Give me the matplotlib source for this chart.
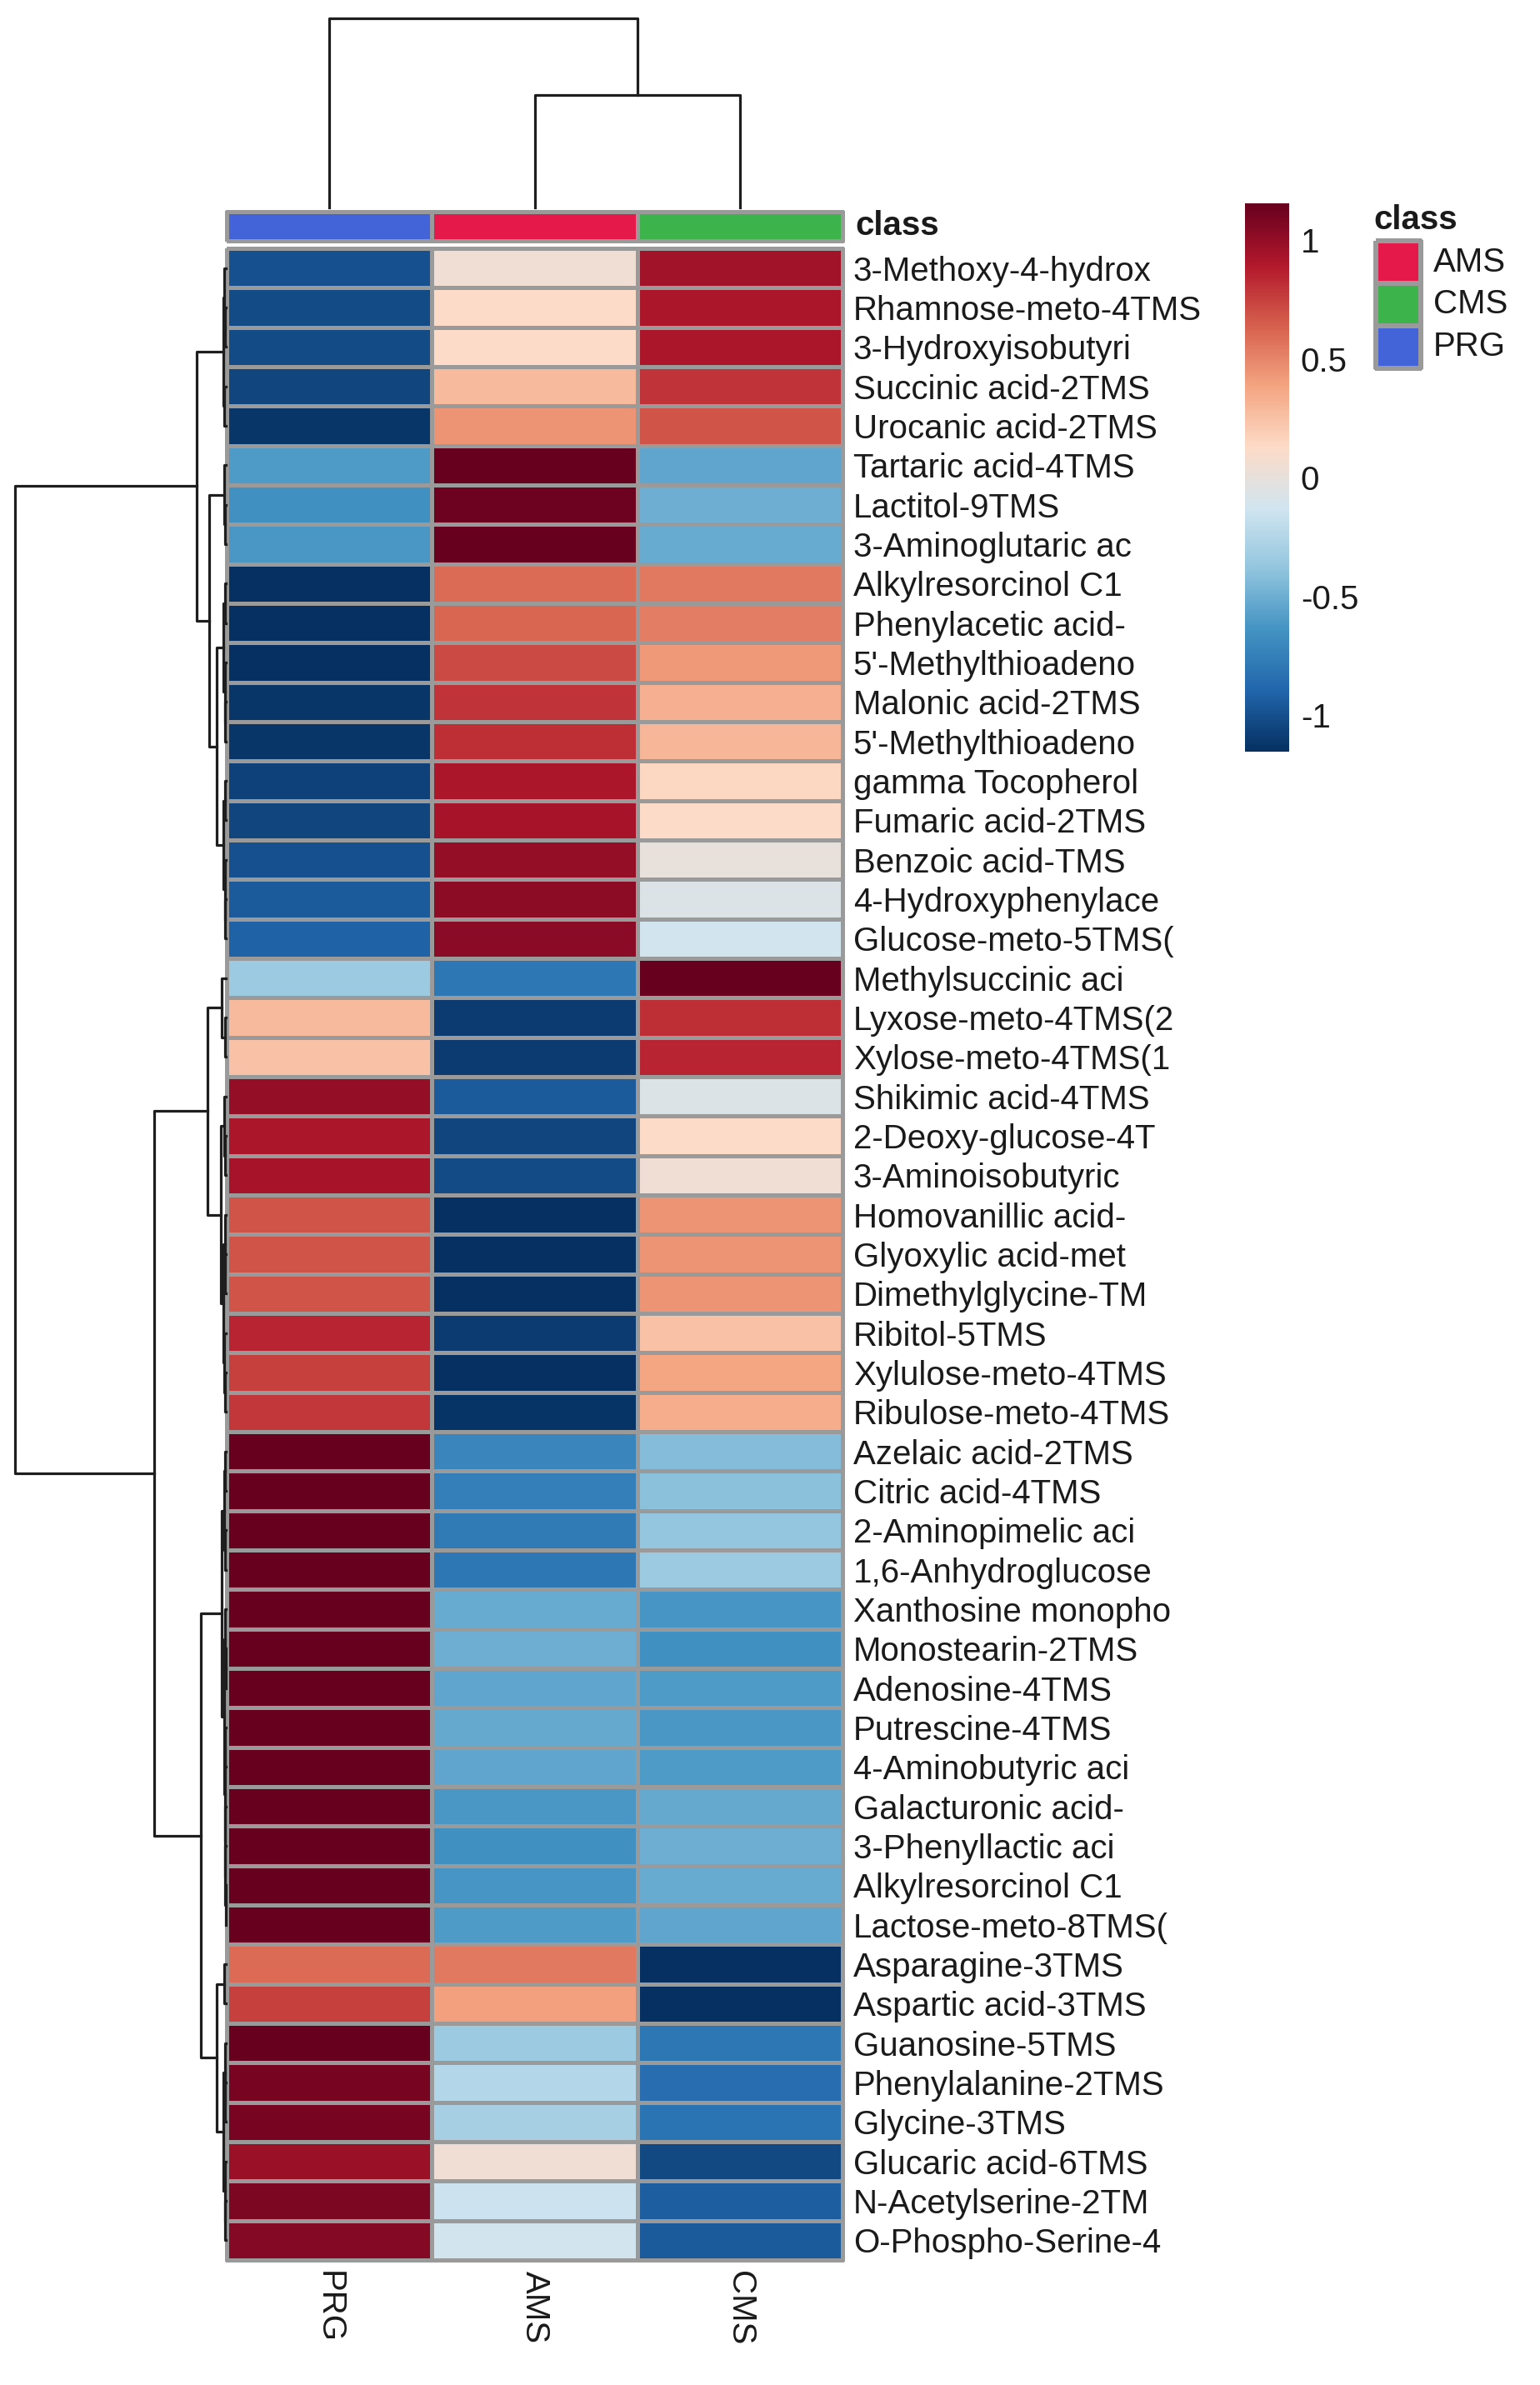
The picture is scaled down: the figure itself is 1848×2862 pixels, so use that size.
import matplotlib
matplotlib.use("Agg")
import matplotlib.pyplot as plt
import numpy as np
from matplotlib.colors import ListedColormap, LinearSegmentedColormap

plt.rcParams['font.family'] = ['Liberation Sans', 'DejaVu Sans']

# ---- data ----
samples = ["PRG", "AMS", "CMS"]
sample_colors = ["#4363d8", "#e6194b", "#3cb44b"]
legend_classes = ["AMS", "CMS", "PRG"]
legend_colors = ["#e6194b", "#3cb44b", "#4363d8"]

features = [
    "3-Methoxy-4-hydrox", "Rhamnose-meto-4TMS", "3-Hydroxyisobutyri", "Succinic acid-2TMS",
    "Urocanic acid-2TMS", "Tartaric acid-4TMS", "Lactitol-9TMS", "3-Aminoglutaric ac",
    "Alkylresorcinol C1", "Phenylacetic acid-", "5'-Methylthioadeno", "Malonic acid-2TMS",
    "5'-Methylthioadeno", "gamma Tocopherol", "Fumaric acid-2TMS", "Benzoic acid-TMS",
    "4-Hydroxyphenylace", "Glucose-meto-5TMS(", "Methylsuccinic aci", "Lyxose-meto-4TMS(2",
    "Xylose-meto-4TMS(1", "Shikimic acid-4TMS", "2-Deoxy-glucose-4T", "3-Aminoisobutyric",
    "Homovanillic acid-", "Glyoxylic acid-met", "Dimethylglycine-TM", "Ribitol-5TMS",
    "Xylulose-meto-4TMS", "Ribulose-meto-4TMS", "Azelaic acid-2TMS", "Citric acid-4TMS",
    "2-Aminopimelic aci", "1,6-Anhydroglucose", "Xanthosine monopho", "Monostearin-2TMS",
    "Adenosine-4TMS", "Putrescine-4TMS", "4-Aminobutyric aci", "Galacturonic acid-",
    "3-Phenyllactic aci", "Alkylresorcinol C1", "Lactose-meto-8TMS(", "Asparagine-3TMS",
    "Aspartic acid-3TMS", "Guanosine-5TMS", "Phenylalanine-2TMS", "Glycine-3TMS",
    "Glucaric acid-6TMS", "N-Acetylserine-2TM", "O-Phospho-Serine-4",
]

prg = [-1.00, -1.02, -1.02, -1.05, -1.12, -0.60, -0.65, -0.62, -1.15, -1.15,
       -1.15, -1.12, -1.12, -1.07, -1.05, -1.00, -0.95, -0.92, -0.35, 0.28,
       0.25, 1.00, 0.92, 0.93, 0.68, 0.68, 0.68, 0.85, 0.75, 0.78,
       1.15, 1.15, 1.15, 1.15, 1.15, 1.15, 1.15, 1.15, 1.15, 1.15,
       1.15, 1.15, 1.15, 0.60, 0.75, 1.15, 1.10, 1.10, 0.98, 1.08, 1.05]
ams = [0.05, 0.12, 0.12, 0.28, 0.45, 1.15, 1.13, 1.15, 0.60, 0.62,
       0.72, 0.80, 0.82, 0.92, 0.93, 1.00, 1.02, 1.03, -0.80, -1.10,
       -1.10, -0.95, -1.05, -1.02, -1.15, -1.15, -1.15, -1.10, -1.15, -1.13,
       -0.72, -0.75, -0.78, -0.80, -0.52, -0.50, -0.55, -0.53, -0.55, -0.62,
       -0.65, -0.63, -0.60, 0.55, 0.40, -0.35, -0.25, -0.30, 0.05, -0.15, -0.12]
cms = [0.95, 0.92, 0.92, 0.80, 0.68, -0.55, -0.50, -0.52, 0.55, 0.53,
       0.43, 0.33, 0.30, 0.15, 0.12, 0.00, -0.07, -0.12, 1.15, 0.82,
       0.85, -0.07, 0.12, 0.05, 0.45, 0.45, 0.45, 0.25, 0.38, 0.35,
       -0.43, -0.40, -0.37, -0.35, -0.63, -0.65, -0.60, -0.62, -0.60, -0.53,
       -0.50, -0.52, -0.55, -1.15, -1.15, -0.80, -0.85, -0.82, -1.03, -0.93, -0.95]

# column tree: (left, right, height), leaves are column indices
col_tree = (0, (1, 2, 135), 227)

# row tree (merge heights)
upper = (((0, (1, 2, 0.6), 1.5), (3, 4, 1.8), 2.5),
         ((5, (6, 7, 0.8), 1.6),
          (((8, 9, 0.7), (10, (11, 12, 0.5), 1.2), 2.8),
           ((13, 14, 0.6), (15, (16, 17, 0.7), 1.4), 3.0), 11), 20), 35)
lower_a = ((18, (19, 20, 0.5), 5),
           ((21, (22, 23, 0.8), 2.0),
            ((24, (25, 26, 0.5), 1.2), (27, (28, 29, 0.6), 1.5), 2.5), 5.5), 22)
lower_b = ((((30, 31, 0.6), (32, 33, 0.5), 1.5),
            ((34, (35, 36, 0.4), 1.0), ((37, 38, 0.5), (39, (40, (41, 42, 0.3), 0.6), 1.0), 1.4), 2.2), 5),
           ((43, 44, 2.0), ((45, (46, 47, 0.6), 1.2), (48, (49, 50, 0.5), 1.3), 2.5), 11), 30)
row_tree = (upper, ((lower_a, lower_b, 86)), 254)

# brewer RdBu (10 classes), low -> high
rdbu10 = ["#053061", "#2166AC", "#4393C3", "#92C5DE", "#D1E5F0",
          "#FDDBC7", "#F4A582", "#D6604D", "#B2182B", "#67001F"]

# ---- drawing ----
vmax = 1.155
text_col = '#1a1a1a'
grid_col = '#9a9a9a'
fs = 29
cmap = LinearSegmentedColormap.from_list('rdbu10', rdbu10, N=256)

data = np.array([prg, ams, cms]).T
n_rows = len(features)


def draw_tree(ax, node, orient):
    if isinstance(node, int):
        return node + 0.5, 0.0
    left, right, h = node
    p1, h1 = draw_tree(ax, left, orient)
    p2, h2 = draw_tree(ax, right, orient)
    ps = [p1, p1, p2, p2]
    hs = [h1, h, h, h2]
    if orient == 'left':
        ax.plot(hs, ps, color='#1e1e1e', lw=2.3, clip_on=False)
    else:
        ax.plot(ps, hs, color='#1e1e1e', lw=2.3, clip_on=False)
    return (p1 + p2) / 2, h


fig = plt.figure(figsize=(18.48, 28.62), dpi=100)

# heatmap
ax = fig.add_axes([0.1472, 0.0524, 0.4, 0.8435])
mesh = ax.pcolormesh(data, cmap=cmap, vmin=-vmax, vmax=vmax,
                     edgecolors=grid_col, linewidth=2.4)
mesh.set_clip_on(False)
ax.set_xlim(0, 3)
ax.set_ylim(n_rows, 0)
for s in ax.spines.values():
    s.set_visible(False)
ax.yaxis.tick_right()
ax.set_yticks(np.arange(n_rows) + 0.5)
ax.set_yticklabels(features, fontsize=fs, color=text_col)
ax.set_xticks(np.arange(3) + 0.5)
ax.set_xticklabels(samples, fontsize=fs, color=text_col, rotation=270)
ax.tick_params(length=0, pad=9)

# class bar
axc = fig.add_axes([0.1472, 0.899, 0.4, 0.0123])
axc.pcolormesh(np.arange(3).reshape(1, 3), cmap=ListedColormap(sample_colors),
               edgecolors=grid_col, linewidth=2.4).set_clip_on(False)
axc.set_xlim(0, 3)
axc.set_ylim(0, 1)
axc.axis('off')
axc.text(1.02, 0.5, 'class', transform=axc.transAxes, ha='left', va='center',
         fontsize=fs, fontweight='bold', color=text_col)

# column dendrogram
axt = fig.add_axes([0.1472, 0.913, 0.4, 0.0793])
draw_tree(axt, col_tree, 'top')
axt.set_xlim(0, 3)
axt.set_ylim(0, col_tree[2])
axt.axis('off')

# row dendrogram
axr = fig.add_axes([0.0097, 0.0524, 0.1369, 0.8435])
draw_tree(axr, row_tree, 'left')
axr.set_xlim(row_tree[2], 0)
axr.set_ylim(n_rows, 0)
axr.axis('off')

# colour bar
cax = fig.add_axes([0.8084, 0.6848, 0.0287, 0.2299])
cb = fig.colorbar(mesh, cax=cax)
cb.outline.set_visible(False)
cb.set_ticks([1, 0.5, 0, -0.5, -1])
cb.set_ticklabels(['1', '0.5', '0', '-0.5', '-1'])
cax.tick_params(length=0, pad=10, labelsize=fs, labelcolor=text_col)

# class legend
axl = fig.add_axes([0.8934, 0.8456, 0.0292, 0.0534])
axl.pcolormesh(np.arange(3).reshape(3, 1), cmap=ListedColormap(legend_colors),
               edgecolors=grid_col, linewidth=3).set_clip_on(False)
axl.set_xlim(0, 1)
axl.set_ylim(3, 0)
axl.axis('off')
for i, name in enumerate(legend_classes):
    axl.text(1.28, i + 0.5, name, ha='left', va='center', fontsize=fs, color=text_col)
axl.text(-0.05, -0.5, 'class', ha='left', va='center', fontsize=fs,
         fontweight='bold', color=text_col)

fig.savefig('out.png', dpi=100, facecolor='white')
